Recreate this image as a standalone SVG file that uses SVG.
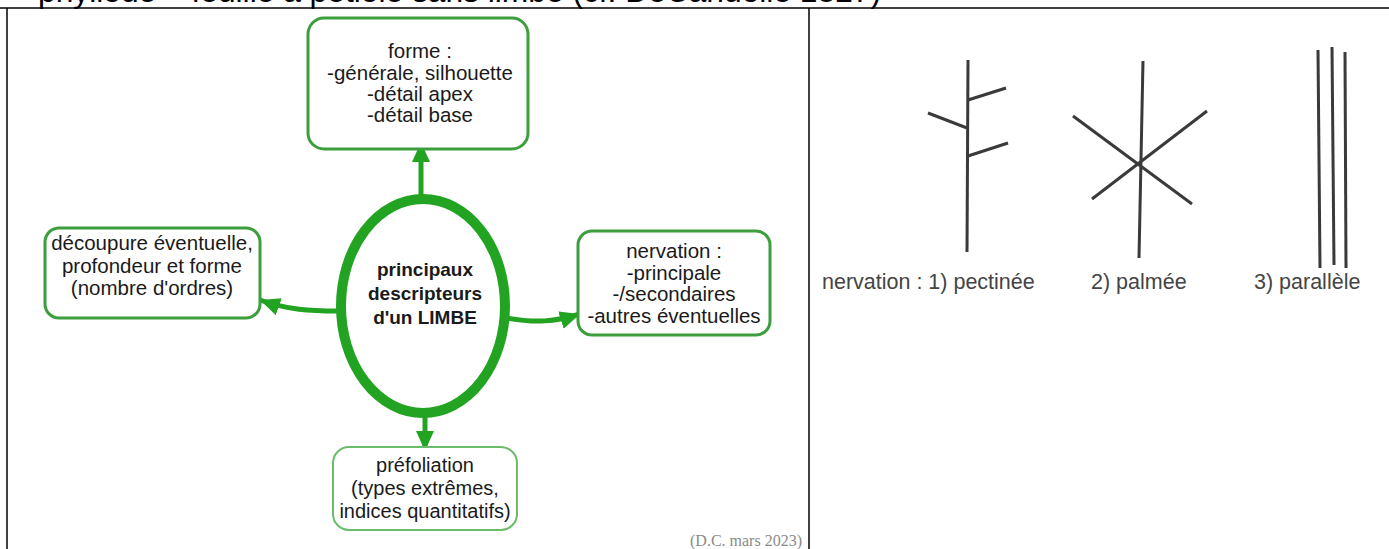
<svg xmlns="http://www.w3.org/2000/svg" width="1389" height="549" viewBox="0 0 1389 549">
<defs>
<style>
.box{fill:#fff;stroke:#3d9e3d;stroke-width:3}
.box2{fill:#fff;stroke:#6abb6a;stroke-width:2}
.t{font-family:"Liberation Sans",Arial,sans-serif;font-size:20.5px;fill:#1a1a1a;text-anchor:middle}
.ts{font-family:"Liberation Sans",Arial,sans-serif;font-size:20px;fill:#1a1a1a;text-anchor:middle}
.tb{font-family:"Liberation Sans",Arial,sans-serif;font-size:19px;font-weight:bold;fill:#1a1a1a;text-anchor:middle}
.conn{fill:none;stroke:#22a322;stroke-width:5}
.vein{stroke:#3a3a3a;stroke-width:3;fill:none}
.lab{font-family:"Liberation Sans",Arial,sans-serif;font-size:21.5px;fill:#444}
.frame{stroke:#000;stroke-width:1.5;fill:none}
</style>
<marker id="ah" markerUnits="userSpaceOnUse" markerWidth="24" markerHeight="20" refX="20" refY="9" orient="auto">
<path d="M0,0 L20,9 L0,18 Z" fill="#22a322"/>
</marker>
</defs>
<rect width="1389" height="549" fill="#fff"/>
<text x="38" y="2" font-family="Liberation Sans,Arial,sans-serif" font-size="31" fill="#000" textLength="843" lengthAdjust="spacingAndGlyphs">phyllode – feuille à pétiole sans limbe (cf. DeCandolle 1827)</text>
<g id="frame">
<line class="frame" x1="0" y1="8" x2="1389" y2="8"/>
<line class="frame" x1="7" y1="8" x2="7" y2="549"/>
<line class="frame" x1="809" y1="8" x2="809" y2="549"/>
</g>
<g id="connectors">
<path class="conn" d="M421,198 L421,142" marker-end="url(#ah)"/>
<path class="conn" d="M338,311 C310,311 288,310 260,300" marker-end="url(#ah)"/>
<path class="conn" d="M507,318 C535,323 555,322 580,314" marker-end="url(#ah)"/>
<path class="conn" d="M425,417 L425,451" marker-end="url(#ah)"/>
</g>
<g id="center">
<ellipse cx="423" cy="306" rx="82" ry="107" fill="#fff" stroke="#22a322" stroke-width="10"/>
<text class="tb" x="425" y="276">principaux</text>
<text class="tb" x="425" y="300">descripteurs</text>
<text class="tb" x="425" y="324">d'un LIMBE</text>
</g>
<g id="forme">
<rect class="box" x="308" y="18" width="220" height="131" rx="16"/>
<text class="t" x="420" y="58">forme :</text>
<text class="t" x="420" y="80">-générale, silhouette</text>
<text class="t" x="420" y="101">-détail apex</text>
<text class="t" x="420" y="122">-détail base</text>
</g>
<g id="decoupure">
<rect class="box" x="45" y="228" width="215" height="90" rx="14"/>
<text class="t" x="152" y="250">découpure  éventuelle,</text>
<text class="t" x="152" y="273">profondeur et forme</text>
<text class="t" x="152" y="295">(nombre d'ordres)</text>
</g>
<g id="nervation">
<rect class="box" x="578" y="231" width="192" height="104" rx="14"/>
<text class="t" x="674" y="258">nervation :</text>
<text class="t" x="674" y="280">-principale</text>
<text class="t" x="674" y="301">-/secondaires</text>
<text class="t" x="674" y="323">-autres éventuelles</text>
</g>
<g id="prefoliation">
<rect class="box2" x="333" y="447" width="184" height="83" rx="16"/>
<text class="ts" x="425" y="472">préfoliation</text>
<text class="ts" x="425" y="495">(types extrêmes,</text>
<text class="ts" x="425" y="518">indices quantitatifs)</text>
</g>
<text x="802" y="546" font-family="Liberation Serif,Times New Roman,serif" font-size="16" fill="#8a8a8a" text-anchor="end">(D.C. mars 2023)</text>
<g id="pectinee">
<line class="vein" x1="968" y1="60" x2="967" y2="252"/>
<line class="vein" x1="968" y1="100" x2="1006" y2="88"/>
<line class="vein" x1="928" y1="113" x2="967" y2="128"/>
<line class="vein" x1="968" y1="156" x2="1008" y2="143"/>
</g>
<g id="palmee">
<line class="vein" x1="1143" y1="61" x2="1139" y2="258"/>
<line class="vein" x1="1073" y1="116" x2="1192" y2="204"/>
<line class="vein" x1="1092" y1="199" x2="1207" y2="111"/>
</g>
<g id="parallele">
<line class="vein" x1="1318" y1="50" x2="1320" y2="268"/>
<line class="vein" x1="1332" y1="47" x2="1334" y2="265"/>
<line class="vein" x1="1345" y1="52" x2="1346" y2="268"/>
</g>
<text class="lab" x="822" y="289">nervation : 1) pectinée</text>
<text class="lab" x="1091" y="289">2) palmée</text>
<text class="lab" x="1254" y="289">3) parallèle</text>
</svg>
